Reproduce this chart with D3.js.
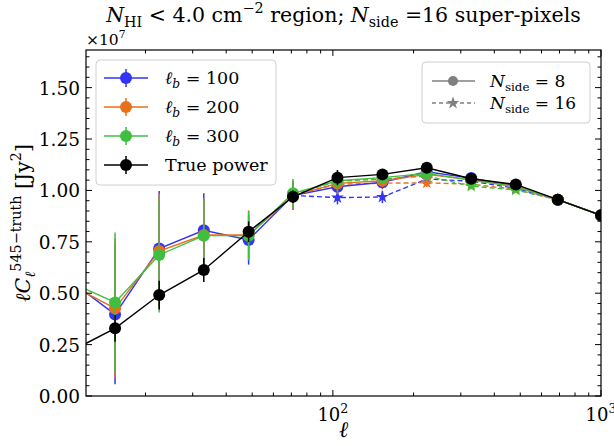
<!DOCTYPE html>
<html>
<head>
<meta charset="utf-8">
<script src="https://cdn.jsdelivr.net/npm/d3@7"></script>
<style>
body{margin:0;background:#fff;}
</style>
</head>
<body>
<div class="canvas"></div>
<script>
// multipole bins (first one sits just left of the axis)
const ells=[10.5,15.4,22.5,33,48.5,71,104,153,224,328,481,690,1000];

// N_side = 8, solid lines with circles
const blue8=[0.56,0.397,0.717,0.806,0.759,0.975,1.018,1.040,1.091,1.060,1.022,0.955,0.879];
const orange8=[0.54,0.426,0.705,0.783,0.783,0.975,1.034,1.047,1.078,1.052,1.020,0.955,0.879];
const green8=[0.553,0.455,0.686,0.780,0.780,0.986,1.047,1.062,1.083,1.050,1.018,0.955,0.879];
const errColor=[0.33,0.34,0.28,0.18,0.12,0.07,0.05,0.03,0.02,0.015,0.01,0.008,0.006];
const truePower=[0.217,0.329,0.491,0.613,0.799,0.969,1.062,1.078,1.110,1.057,1.029,0.955,0.879];
const errTrue=[0.065,0.065,0.07,0.058,0.05,0.03,0.037,0.02,0.02,0.015,0.01,0.008,0.006];

// N_side = 16, dashed lines with stars (from ell ~ 71 on)
const ells16=[71,104,153,224,328,481,690,1000];
const blue16=[0.975,0.965,0.968,1.055,1.045,1.010,0.955,0.879];
const orange16=[0.975,1.030,1.035,1.037,1.030,1.005,0.955,0.879];
const green16=[0.980,1.045,1.055,1.070,1.021,1.002,0.955,0.879];
const err16=[0.04,0.033,0.03,0.02,0.015,0.01,0.008,0.006];

const yTicks=[0,0.25,0.5,0.75,1.0,1.25,1.5];

const W=614,H=446;
const margin={top:50,right:13,bottom:50,left:86};
const svg=d3.select('.canvas').append('svg').attr('width',W).attr('height',H)
  .attr('font-family','"DejaVu Serif", "Liberation Serif", serif');

const x=d3.scaleLog().domain([12,1000]).range([margin.left,W-margin.right]);
const y=d3.scaleLinear().domain([0,1.683]).range([H-margin.bottom,margin.top]);

const cBlue='#3434f4',cOrange='#e5711d',cGreen='#3fbe3f';

svg.append('clipPath').attr('id','clip').append('rect')
  .attr('x',x.range()[0]).attr('y',y.range()[1])
  .attr('width',x.range()[1]-x.range()[0]).attr('height',y.range()[0]-y.range()[1]);

const plot=svg.append('g').attr('clip-path','url(#clip)');

// small rich text helper: parts = [[text, kind]] kind: n, i, sub, sup, isub
function rich(t,parts,size){
  let shift=0; // current offset from baseline
  parts.forEach(([s,k])=>{
    const ts=t.append('tspan').text(s);
    let target=0;
    if(k==='i') ts.attr('font-style','italic');
    if(k==='sub'||k==='isub'){ts.attr('font-size',size*0.7);target=size*0.25;}
    if(k==='sup'){ts.attr('font-size',size*0.7);target=-size*0.42;}
    if(k==='isub') ts.attr('font-style','italic');
    if(target!==shift) ts.attr('dy',target-shift);
    shift=target;
  });
}

const line=d3.line().x(d=>x(d[0])).y(d=>y(d[1]));

function series(xs,vals,errs,color,dashed,star){
  const pts=xs.map((e,i)=>[e,vals[i],errs[i]]);
  const g=plot.append('g');
  g.selectAll('line.err').data(pts).enter().append('line')
    .attr('x1',d=>x(d[0])).attr('x2',d=>x(d[0]))
    .attr('y1',d=>y(d[1]-d[2])).attr('y2',d=>y(d[1]+d[2]))
    .attr('stroke',color).attr('stroke-width',1.5);
  g.append('path').datum(pts).attr('d',line)
    .attr('fill','none').attr('stroke',color).attr('stroke-width',1.4)
    .attr('stroke-dasharray',dashed?'5,3':null);
  if(star){
    g.selectAll('path.m').data(pts).enter().append('path')
      .attr('d',d3.symbol().type(d3.symbolStar).size(50))
      .attr('transform',d=>`translate(${x(d[0])},${y(d[1])})`)
      .attr('fill',color);
  } else {
    g.selectAll('circle').data(pts).enter().append('circle')
      .attr('cx',d=>x(d[0])).attr('cy',d=>y(d[1])).attr('r',6)
      .attr('fill',color);
  }
}

series(ells16,blue16,err16,cBlue,true,true);
series(ells16,orange16,err16,cOrange,true,true);
series(ells16,green16,err16,cGreen,true,true);
series(ells,blue8,errColor,cBlue,false,false);
series(ells,orange8,errColor,cOrange,false,false);
series(ells,green8,errColor,cGreen,false,false);
series(ells,truePower,errTrue,'#000',false,false);

// axes, ticks inward on every side
const x0=x.range()[0],x1=x.range()[1],y0=y.range()[0],y1=y.range()[1];
const axes=svg.append('g');
axes.append('rect').attr('x',x0).attr('y',y1).attr('width',x1-x0).attr('height',y0-y1)
  .attr('fill','none').attr('stroke','#000').attr('stroke-width',1.2);

const xMajor=[100,1000];
const xMinor=[];
[10,100].forEach(b=>{for(let k=2;k<=9;k++){const v=b*k;if(v>=12&&v<1000)xMinor.push(v);}});
xMajor.concat(xMinor).forEach(v=>{
  const len=xMajor.includes(v)?6:3.5;
  axes.append('line').attr('x1',x(v)).attr('x2',x(v)).attr('y1',y0).attr('y2',y0-len).attr('stroke','#000');
  axes.append('line').attr('x1',x(v)).attr('x2',x(v)).attr('y1',y1).attr('y2',y1+len).attr('stroke','#000');
});
const yMinor=d3.range(0,1.683,0.05);
yMinor.forEach(v=>{
  const major=yTicks.some(t=>Math.abs(t-v)<1e-6);
  const len=major?6:3.5;
  axes.append('line').attr('x1',x0).attr('x2',x0+len).attr('y1',y(v)).attr('y2',y(v)).attr('stroke','#000');
  axes.append('line').attr('x1',x1).attr('x2',x1-len).attr('y1',y(v)).attr('y2',y(v)).attr('stroke','#000');
});

yTicks.forEach(v=>{
  svg.append('text').attr('x',x0-6).attr('y',y(v)+7).attr('text-anchor','end')
    .attr('font-size',18.5).text(v.toFixed(2));
});
xMajor.forEach(v=>{
  const t=svg.append('text').attr('x',x(v)).attr('y',y0+25).attr('text-anchor','middle').attr('font-size',18);
  rich(t,[['10','n'],[String(Math.round(Math.log10(v))),'sup']],18);
});

// offset text
const off=svg.append('text').attr('x',x0).attr('y',45).attr('font-size',15.5);
rich(off,[['×10','n'],['7','sup']],15.5);

// title
const title=svg.append('text').attr('x',(x0+x1)/2).attr('y',22).attr('text-anchor','middle').attr('font-size',20.5);
rich(title,[['N','i'],['HI','sub'],[' < 4.0 cm','n'],['−2','sup'],[' region; ','n'],['N','i'],['side','sub'],[' =16 super-pixels','n']],20.5);

// axis labels
svg.append('text').attr('x',(x0+x1)/2).attr('y',437).attr('text-anchor','middle')
  .attr('font-size',22).attr('font-style','italic').text('ℓ');
const yl=svg.append('text').attr('transform',`translate(30,${(y0+y1)/2}) rotate(-90)`)
  .attr('text-anchor','middle').attr('font-size',20.5);
rich(yl,[['ℓC','i'],['ℓ','isub'],['545−truth','sup'],[' [Jy','n'],['2','sup'],[']','n']],20.5);

// left legend
const lg=svg.append('g');
lg.append('rect').attr('x',96).attr('y',60).attr('width',180).attr('height',125).attr('rx',4)
  .attr('fill','#fff').attr('fill-opacity',0.85).attr('stroke','#d0d0d0');
const leg1=[{c:cBlue,lab:'100'},{c:cOrange,lab:'200'},{c:cGreen,lab:'300'},{c:'#000',lab:null}];
leg1.forEach((d,i)=>{
  const yy=78+i*29;
  lg.append('line').attr('x1',104).attr('x2',148).attr('y1',yy).attr('y2',yy).attr('stroke',d.c).attr('stroke-width',1.4);
  lg.append('line').attr('x1',126).attr('x2',126).attr('y1',yy-9).attr('y2',yy+9).attr('stroke',d.c).attr('stroke-width',1.5);
  lg.append('circle').attr('cx',126).attr('cy',yy).attr('r',6).attr('fill',d.c);
  const t=lg.append('text').attr('x',165).attr('y',yy+6).attr('font-size',17.5);
  if(d.lab) rich(t,[['ℓ','i'],['b','isub'],[' = '+d.lab,'n']],17.5);
  else t.text('True power');
});

// right legend
const rg=svg.append('g');
rg.append('rect').attr('x',422).attr('y',62).attr('width',168).attr('height',61).attr('rx',4)
  .attr('fill','#fff').attr('fill-opacity',0.85).attr('stroke','#d0d0d0');
[{lab:'8',dash:false},{lab:'16',dash:true}].forEach((d,i)=>{
  const yy=81+i*22;
  rg.append('line').attr('x1',432).attr('x2',475).attr('y1',yy).attr('y2',yy)
    .attr('stroke','#808080').attr('stroke-width',1.3).attr('stroke-dasharray',d.dash?'4,3':null);
  if(d.dash) rg.append('path').attr('d',d3.symbol().type(d3.symbolStar).size(50))
    .attr('transform',`translate(453,${yy})`).attr('fill','#808080');
  else rg.append('circle').attr('cx',453).attr('cy',yy).attr('r',5).attr('fill','#808080');
  const t=rg.append('text').attr('x',490).attr('y',yy+6).attr('font-size',17);
  rich(t,[['N','i'],['side','sub'],[' = '+d.lab,'n']],17);
});
</script>
</body>
</html>
